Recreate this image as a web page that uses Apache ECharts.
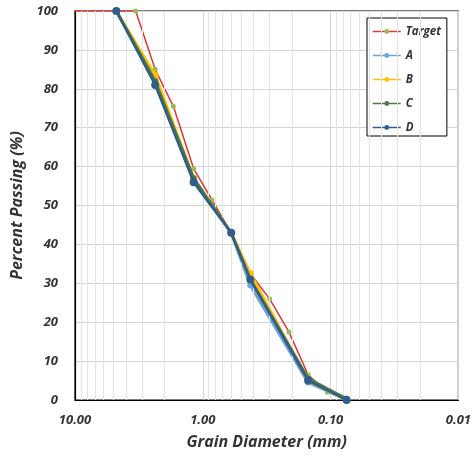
<!DOCTYPE html>
<html><head><meta charset="utf-8">
<script src="https://cdn.jsdelivr.net/npm/echarts@6/dist/echarts.min.js"></script>
<style>html,body{margin:0;padding:0;background:#fff}#c{width:474px;height:456px}</style>
</head><body><div id="c"></div>
<script>
const targetSizes = [12.5, 3.35, 2.36, 1.7, 1.18, 0.85, 0.6, 0.425, 0.3, 0.212, 0.15, 0.106, 0.075];
const targetPass  = [100, 100, 85, 75.5, 59.5, 51.5, 43, 32.5, 26, 17.5, 6.5, 2, 0.5];
const sieveSizes = [4.75, 2.36, 1.18, 0.6, 0.425, 0.15, 0.075];
const passA = [100, 82, 56.5, 43, 29.5, 4.5, 0];
const passB = [100, 83.5, 57, 43, 32.5, 5, 0];
const passC = [100, 82, 57, 43, 31, 5.5, 0.3];
const passD = [100, 81, 56, 43, 31, 5, 0];
const minorTicks = [0.02,0.03,0.04,0.05,0.06,0.07,0.08,0.09,0.2,0.3,0.4,0.5,0.6,0.7,0.8,0.9,2,3,4,5,6,7,8,9];

const font = 'Open Sans';
const txt = '#333';
function pairs(xs, ys){ return xs.map((x,i)=>[x, ys[i]]); }
function mk(name, xs, ys, color, lw, sym, symColor, z){
  return {name, type:'line', data:pairs(xs,ys), clip:true, z,
    lineStyle:{color, width:lw}, itemStyle:{color:symColor||color},
    symbol:'circle', symbolSize:sym, showSymbol:true, animation:false};
}
const chart = echarts.init(document.getElementById('c'), null, {renderer:'canvas'});
chart.setOption({
  animation:false,
  grid:{left:75, right:12, top:11, bottom:56, show:true, borderColor:'#000', borderWidth:1.2},
  xAxis:{type:'log', logBase:10, min:0.01, max:10, inverse:true,
    axisLine:{show:true, lineStyle:{color:'#000', width:1.2}}, axisTick:{show:false},
    splitLine:{show:true, lineStyle:{color:'#d4d4d4', width:1}},
    axisLabel:{margin:14, color:txt, fontFamily:font, fontWeight:'bold', fontStyle:'italic', fontSize:13,
      formatter:v=>Number(v).toFixed(2)},
    name:'Grain Diameter (mm)', nameLocation:'middle', nameGap:34,
    nameTextStyle:{color:txt, fontFamily:font, fontWeight:'bold', fontStyle:'italic', fontSize:16}},
  yAxis:{type:'value', min:0, max:100, interval:10,
    axisLine:{show:true, lineStyle:{color:'#000', width:1.2}}, axisTick:{show:false},
    splitLine:{show:true, lineStyle:{color:'#d4d4d4', width:1}},
    axisLabel:{margin:17, color:txt, fontFamily:font, fontWeight:'bold', fontStyle:'italic', fontSize:13},
    name:'Percent Passing (%)', nameLocation:'middle', nameGap:48,
    nameTextStyle:{color:txt, fontFamily:font, fontWeight:'bold', fontStyle:'italic', fontSize:16}},
  legend:{orient:'vertical', left:367, top:18, padding:[6,6,1,5], itemGap:9,
    itemWidth:28, itemHeight:6, borderColor:'#000', borderWidth:1, backgroundColor:'#fff',
    lineStyle:{width:1.5},
    data:['Target','A','B','C','D'],
    textStyle:{color:txt, fontFamily:font, fontWeight:'bold', fontStyle:'italic', fontSize:11.5, lineHeight:15}},
  series:[
    {name:'minor', type:'line', data:[], silent:true,
      markLine:{silent:true, symbol:'none', label:{show:false}, animation:false,
        lineStyle:{color:'#e3e3e3', width:1, type:'solid'},
        data:minorTicks.map(v=>({xAxis:v}))}},
    mk('Target', targetSizes, targetPass, '#e3342f', 1.5, 5, '#9bbb59', 3),
    mk('A', sieveSizes, passA, '#6fa3d8', 3, 6, null, 4),
    mk('B', sieveSizes, passB, '#ffc000', 3, 7, null, 5),
    mk('C', sieveSizes, passC, '#4f7a45', 3, 6, null, 6),
    mk('D', sieveSizes, passD, '#2f5d8c', 2.5, 8, null, 7)
  ]
});
</script></body></html>
